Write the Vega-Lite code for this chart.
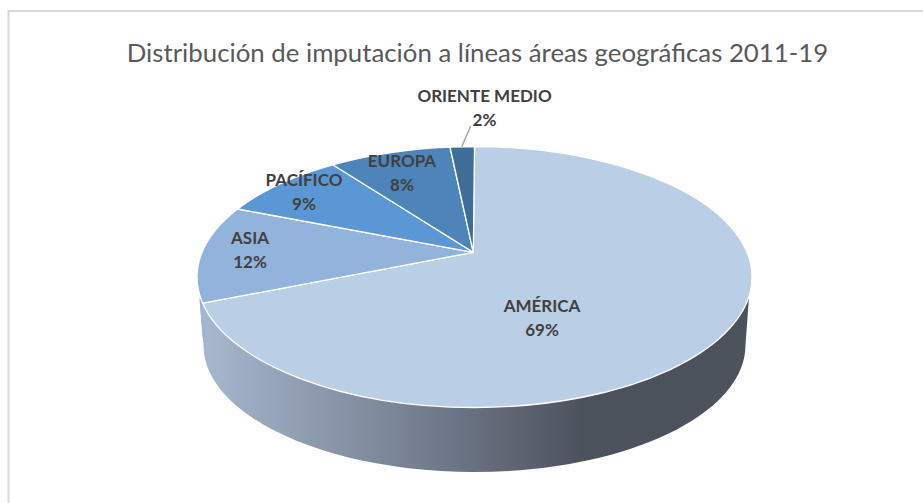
{
  "$schema": "https://vega.github.io/schema/vega-lite/v6.json",
  "width": 923,
  "height": 503,
  "autosize": "none",
  "padding": 0,
  "background": "#ffffff",
  "config": {"view": {"stroke": null}},
  "data": {
    "values": [
      {"region": "AMÉRICA", "pct": 69},
      {"region": "ASIA", "pct": 12},
      {"region": "PACÍFICO", "pct": 9},
      {"region": "EUROPA", "pct": 8},
      {"region": "ORIENTE MEDIO", "pct": 2}
    ]
  },
  "transform": [{"calculate": "datum.region + '\\n' + datum.pct + '%'", "as": "etiqueta"}],
  "layer": [
    {
      "data": {"values": [{"parte": "marco"}]},
      "mark": {"type": "point", "shape": "M-453,260 L-453,-240.5 L470,-240.5", "size": 4, "filled": false, "stroke": "#d9d9d9", "strokeWidth": 2, "opacity": 1}
    },
    {
      "data": {"values": [{"parte": "titulo"}]},
      "mark": {"type": "text", "text": "Distribución de imputación a líneas áreas geográficas 2011-19", "align": "center", "baseline": "middle", "dx": 16, "dy": -197.5, "font": "Lato", "fontSize": 25.8, "fontWeight": "normal", "color": "#595959"}
    },
    {
      "data": {"values": [{"parte": "lateral"}]},
      "mark": {
        "type": "point",
        "shape": "M287.5,45.5 L284,93.5 C284,163.6 162.7,220.5 13,220.5 C-136.7,220.5 -258,163.6 -258,93.5 L-262,48 Z",
        "size": 4,
        "filled": true,
        "opacity": 1,
        "fill": {
          "gradient": "linear",
          "x1": 0, "y1": 0, "x2": 1, "y2": 0,
          "stops": [
            {"offset": 0, "color": "#a8b8cf"},
            {"offset": 0.5, "color": "#687080"},
            {"offset": 0.7, "color": "#4c525c"},
            {"offset": 1, "color": "#4d535d"}
          ]
        }
      }
    },
    {
      "data": {"values": [{"parte": "lateral asia"}]},
      "mark": {"type": "point", "shape": "M-262,46 L-259,52 L-255,100 L-259,85 Z", "size": 4, "filled": true, "opacity": 1, "fill": "#9db4d4"}
    },
    {
      "mark": {"type": "point", "size": 4, "filled": true, "opacity": 1, "stroke": "#ffffff", "strokeWidth": 1.3},
      "encoding": {
        "shape": {
          "field": "region",
          "type": "nominal",
          "legend": null,
          "scale": {
            "domain": ["AMÉRICA", "ASIA", "PACÍFICO", "EUROPA", "ORIENTE MEDIO"],
            "range": [
              "M11.8,0.8 L-258.8,51.7 C-232.3,112.4 -118.8,156 13,156 C166.3,156 290.5,97.6 290.5,25.5 C290.5,-46.6 166.3,-105 13,-105 Z",
              "M11.8,0.8 L-223.9,-42.5 C-260.5,-14.3 -272.9,19.4 -258.8,51.7 Z",
              "M11.8,0.8 L-128.7,-86.7 C-167.6,-75.8 -200.3,-60.7 -223.9,-42.5 Z",
              "M11.8,0.8 L-11.5,-104.5 C-52.9,-102.8 -93,-96.7 -128.7,-86.7 Z",
              "M11.8,0.8 L13,-105 Q0.5,-105 -11.5,-104.5 Z"
            ]
          }
        },
        "color": {
          "field": "region",
          "type": "nominal",
          "legend": null,
          "scale": {
            "domain": ["AMÉRICA", "ASIA", "PACÍFICO", "EUROPA", "ORIENTE MEDIO"],
            "range": ["#bacee6", "#92b4dc", "#5b97d5", "#4d85bb", "#3f6d9a"]
          }
        }
      }
    },
    {
      "data": {"values": [{"parte": "guia"}]},
      "mark": {"type": "point", "shape": "M9.2,-125.5 L0.2,-104.8", "size": 4, "filled": false, "stroke": "#a6a6a6", "strokeWidth": 1.5, "opacity": 1}
    },
    {
      "transform": [{"filter": "datum.region === 'AMÉRICA'"}],
      "mark": {"type": "text", "lineBreak": "\n", "lineHeight": 24, "align": "center", "baseline": "middle", "dx": 80.5, "dy": 55.5, "font": "Lato", "fontSize": 17, "fontWeight": "bold", "color": "#404040"},
      "encoding": {"text": {"field": "etiqueta", "type": "nominal"}}
    },
    {
      "transform": [{"filter": "datum.region === 'ASIA'"}],
      "mark": {"type": "text", "lineBreak": "\n", "lineHeight": 24, "align": "center", "baseline": "middle", "dx": -211.5, "dy": -12.5, "font": "Lato", "fontSize": 17, "fontWeight": "bold", "color": "#404040"},
      "encoding": {"text": {"field": "etiqueta", "type": "nominal"}}
    },
    {
      "transform": [{"filter": "datum.region === 'PACÍFICO'"}],
      "mark": {"type": "text", "lineBreak": "\n", "lineHeight": 24, "align": "center", "baseline": "middle", "dx": -157.5, "dy": -70.5, "font": "Lato", "fontSize": 17, "fontWeight": "bold", "color": "#404040"},
      "encoding": {"text": {"field": "etiqueta", "type": "nominal"}}
    },
    {
      "transform": [{"filter": "datum.region === 'EUROPA'"}],
      "mark": {"type": "text", "lineBreak": "\n", "lineHeight": 24, "align": "center", "baseline": "middle", "dx": -59.5, "dy": -89.5, "font": "Lato", "fontSize": 17, "fontWeight": "bold", "color": "#404040"},
      "encoding": {"text": {"field": "etiqueta", "type": "nominal"}}
    },
    {
      "transform": [{"filter": "datum.region === 'ORIENTE MEDIO'"}],
      "mark": {"type": "text", "lineBreak": "\n", "lineHeight": 24, "align": "center", "baseline": "middle", "dx": 23, "dy": -154.5, "font": "Lato", "fontSize": 17, "fontWeight": "bold", "color": "#404040"},
      "encoding": {"text": {"field": "etiqueta", "type": "nominal"}}
    }
  ]
}
